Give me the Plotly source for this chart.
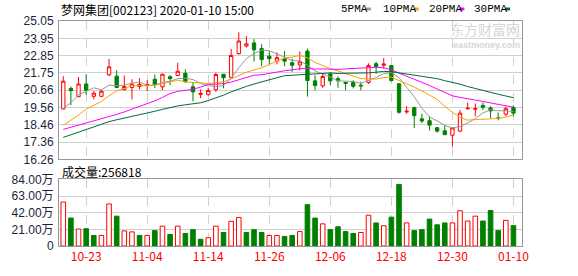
import plotly.graph_objects as go

# ---------------- data ----------------
dates = ["10-18", "10-21", "10-22", "10-23", "10-24", "10-25", "10-28", "10-29", "10-30", "10-31",
         "11-01", "11-04", "11-05", "11-06", "11-07", "11-08", "11-11", "11-12", "11-13", "11-14",
         "11-15", "11-18", "11-19", "11-20", "11-21", "11-22", "11-25", "11-26", "11-27", "11-28",
         "11-29", "12-02", "12-03", "12-04", "12-05", "12-06", "12-09", "12-10", "12-11", "12-12",
         "12-13", "12-16", "12-17", "12-18", "12-19", "12-20", "12-23", "12-24", "12-25", "12-26",
         "12-27", "12-30", "12-31", "01-02", "01-03", "01-06", "01-07", "01-08", "01-09", "01-10"]

opens = [19.47, 20.77, 20.25, 21.05, 20.27, 20.27, 21.63, 21.55, 20.69, 20.83,
         20.89, 20.95, 21.35, 20.87, 21.51, 21.59, 21.73, 20.87, 20.39, 20.37,
         20.69, 21.67, 21.47, 22.98, 23.46, 23.66, 23.30, 22.82, 22.50, 22.66,
         22.40, 22.26, 23.14, 21.25, 20.93, 21.69, 21.39, 21.15, 21.15, 20.97,
         21.15, 22.34, 22.24, 22.22, 21.07, 19.28, 19.55, 18.84, 18.72, 18.28,
         18.08, 17.80, 18.06, 19.47, 19.45, 19.69, 19.53, 18.90, 19.14, 19.55]
highs = [21.55, 20.89, 21.49, 21.67, 20.61, 20.69, 22.64, 21.92, 21.59, 21.35,
         21.41, 21.29, 21.65, 21.71, 21.61, 22.40, 21.99, 21.15, 20.71, 20.81,
         21.77, 21.67, 23.28, 24.33, 24.09, 23.90, 23.58, 23.14, 23.06, 23.14,
         22.66, 23.12, 23.30, 21.61, 21.71, 21.81, 21.53, 21.15, 21.29, 21.19,
         22.36, 22.46, 22.70, 22.26, 21.07, 19.65, 19.61, 19.16, 19.00, 18.32,
         18.44, 18.28, 19.40, 19.87, 19.81, 19.87, 19.65, 19.24, 19.61, 19.69]
lows = [19.44, 19.71, 20.21, 20.37, 20.07, 20.21, 21.55, 20.79, 20.65, 20.07,
        20.71, 20.59, 20.79, 20.67, 20.97, 21.57, 21.15, 19.95, 20.15, 20.33,
        20.55, 20.77, 21.41, 22.92, 23.36, 22.48, 22.18, 22.30, 22.30, 22.18,
        21.82, 21.90, 20.25, 20.65, 20.81, 20.95, 20.81, 20.65, 20.77, 20.65,
        21.05, 21.69, 22.02, 21.21, 19.16, 19.16, 18.26, 18.56, 18.10, 17.96,
        17.80, 17.08, 18.00, 19.47, 19.00, 19.40, 18.88, 18.74, 19.02, 19.00]
closes = [21.23, 20.63, 21.05, 20.65, 20.47, 20.59, 22.14, 20.83, 20.89, 21.03,
          21.03, 21.01, 21.01, 21.67, 21.39, 21.86, 21.19, 20.55, 20.45, 20.63,
          21.65, 21.45, 22.86, 23.78, 23.60, 23.22, 22.60, 22.66, 22.72, 22.50,
          22.24, 22.46, 21.27, 20.95, 21.53, 21.25, 21.25, 21.09, 20.91, 20.93,
          22.22, 22.16, 22.32, 21.27, 19.26, 19.32, 19.04, 18.70, 18.44, 18.06,
          17.84, 18.26, 19.20, 19.51, 19.49, 19.57, 19.34, 18.86, 19.48, 19.20]

ma5 = [19.52, 19.86, 20.36, 20.61, 20.81, 20.68, 20.98, 20.94, 20.98, 21.10,
       21.18, 20.96, 20.99, 21.15, 21.22, 21.39, 21.42, 21.33, 21.09, 20.94,
       20.89, 20.95, 21.41, 22.07, 22.67, 22.98, 23.21, 23.17, 22.96, 22.74,
       22.54, 22.52, 22.24, 21.88, 21.69, 21.49, 21.25, 21.21, 21.21, 21.09,
       21.28, 21.46, 21.71, 21.78, 21.45, 20.87, 20.24, 19.52, 18.95, 18.71,
       18.42, 18.26, 18.36, 18.57, 18.86, 19.21, 19.42, 19.35, 19.35, 19.29]
ma10 = [18.43, 18.73, 19.08, 19.45, 19.71, 19.95, 20.30, 20.61, 20.77, 20.95,
        20.93, 20.97, 20.97, 21.07, 21.16, 21.29, 21.19, 21.16, 21.12, 21.08,
        21.14, 21.19, 21.37, 21.58, 21.80, 21.94, 22.08, 22.29, 22.52, 22.70,
        22.76, 22.86, 22.71, 22.42, 22.22, 22.02, 21.88, 21.73, 21.55, 21.39,
        21.39, 21.36, 21.46, 21.49, 21.27, 21.07, 20.85, 20.61, 20.37, 20.08,
        19.64, 19.25, 18.94, 18.76, 18.79, 18.81, 18.84, 18.86, 18.96, 19.08]
ma20 = [18.17, 18.30, 18.44, 18.58, 18.70, 18.83, 18.95, 19.12, 19.28, 19.45,
        19.60, 19.78, 19.98, 20.20, 20.45, 20.58, 20.64, 20.72, 20.85, 21.02,
        21.04, 21.08, 21.17, 21.32, 21.48, 21.61, 21.64, 21.73, 21.82, 21.89,
        21.95, 22.02, 22.04, 22.00, 22.01, 21.98, 21.98, 22.01, 22.03, 22.05,
        22.07, 22.11, 22.08, 21.96, 21.74, 21.55, 21.37, 21.17, 20.96, 20.73,
        20.51, 20.30, 20.20, 20.13, 20.03, 19.94, 19.85, 19.74, 19.66, 19.58]
ma30 = [17.66, 17.83, 18.00, 18.17, 18.33, 18.50, 18.66, 18.78, 18.88, 18.99,
        19.10, 19.20, 19.32, 19.44, 19.56, 19.66, 19.73, 19.80, 19.86, 20.00,
        20.16, 20.34, 20.55, 20.75, 20.90, 21.05, 21.20, 21.33, 21.45, 21.58,
        21.61, 21.67, 21.68, 21.69, 21.73, 21.75, 21.72, 21.73, 21.73, 21.72,
        21.76, 21.80, 21.85, 21.83, 21.76, 21.68, 21.60, 21.54, 21.48, 21.39,
        21.26, 21.16, 21.04, 20.89, 20.76, 20.63, 20.53, 20.40, 20.29, 20.18]

# volume in 万 (10,000 shares)
volumes = [55.4, 35.2, 21.4, 21.8, 13.3, 13.3, 53.0, 37.6, 19.0, 17.8,
           13.3, 13.3, 19.4, 25.0, 14.5, 25.0, 15.8, 20.6, 8.5, 10.5,
           25.0, 17.0, 31.1, 36.0, 17.0, 20.6, 17.0, 13.3, 13.3, 12.1,
           13.3, 18.2, 52.1, 35.2, 27.9, 20.6, 24.2, 18.2, 15.8, 17.0,
           38.8, 29.1, 25.5, 36.4, 77.6, 29.1, 19.4, 20.6, 33.9, 26.7,
           29.1, 29.1, 44.4, 31.5, 37.6, 31.5, 44.8, 19.4, 32.3, 25.6818]
# 1 = rising (red hollow), 0 = falling (green filled)
volume_up = [1, 0, 1, 0, 0, 1, 1, 0, 1, 1,
             0, 1, 0, 1, 0, 1, 0, 0, 0, 1,
             1, 0, 1, 1, 0, 0, 0, 1, 1, 0,
             0, 1, 0, 0, 1, 0, 0, 0, 0, 1,
             1, 0, 1, 0, 0, 1, 0, 0, 0, 0,
             0, 1, 1, 1, 1, 0, 0, 0, 1, 0]

x_tick_labels = ["10-23", "11-04", "11-14", "11-26", "12-06", "12-18", "12-30", "01-10"]
price_ticks = [16.26, 17.35875, 18.4575, 19.55625, 20.655, 21.75375, 22.8525, 23.95125, 25.05]
price_tick_text = ["16.26", "17.36", "18.46", "19.56", "20.66", "21.75", "22.85", "23.95", "25.05"]
vol_ticks = [0, 21, 42, 63, 84]
vol_tick_text = ["0", "21.00万", "42.00万", "63.00万", "84.00万"]

title_text = "梦网集团[002123] 2020-01-10 15:00"
vol_label = "成交量:256818"
ma_names = ["5PMA", "10PMA", "20PMA", "30PMA"]

# ---------------- style ----------------
RED = "#ff0000"
GREEN = "#008000"
MA_COLORS = ["#999999", "#f5a300", "#ff00ff", "#006b36"]
GRID = "#d0d0d0"
BORDER = "#999999"
LABEL = "#1a1f3a"
CJK = "Noto Sans CJK SC"

idx = list(range(len(dates)))
tick_pos = [dates.index(t) for t in x_tick_labels]
x_range = [-0.56, 60.12]

fig = go.Figure()

fig.add_trace(go.Candlestick(
    x=idx, open=opens, high=highs, low=lows, close=closes,
    increasing=dict(line=dict(color=RED, width=1), fillcolor="#ffffff"),
    decreasing=dict(line=dict(color=GREEN, width=1), fillcolor=GREEN),
    whiskerwidth=0, xaxis="x", yaxis="y", hoverinfo="skip", showlegend=False))

for name, vals, col in zip(ma_names, [ma5, ma10, ma20, ma30], MA_COLORS):
    fig.add_trace(go.Scatter(x=idx, y=vals, mode="lines", name=name,
                             line=dict(color=col, width=1), xaxis="x", yaxis="y",
                             showlegend=False, hoverinfo="skip"))

fig.add_trace(go.Bar(
    x=idx, y=volumes, width=0.6,
    marker=dict(color=["#ffffff" if u else GREEN for u in volume_up],
                line=dict(color=[RED if u else GREEN for u in volume_up], width=1)),
    xaxis="x2", yaxis="y2", showlegend=False, hoverinfo="skip"))

axis_common = dict(showline=True, mirror=True, linecolor=BORDER, linewidth=1,
                   zeroline=False, ticks="", fixedrange=True)

fig.update_layout(
    width=578, height=276,
    margin=dict(l=56, r=56, t=21, b=21),
    paper_bgcolor="#ffffff", plot_bgcolor="#ffffff",
    boxgap=0.38,
    xaxis=dict(domain=[0, 1], anchor="y", range=x_range, tickvals=tick_pos,
               showticklabels=False, showgrid=True, gridcolor=GRID, griddash="dash",
               gridwidth=1, rangeslider=dict(visible=False), **axis_common),
    yaxis=dict(domain=[0.3846, 1], anchor="x", range=[16.26, 25.05],
               tickvals=price_ticks, ticktext=price_tick_text,
               showgrid=True, gridcolor=GRID, gridwidth=1,
               tickfont=dict(family="Liberation Sans", size=12, color=LABEL),
               ticklabelstandoff=2, **axis_common),
    xaxis2=dict(domain=[0, 1], anchor="y2", range=x_range, tickvals=tick_pos,
                ticktext=x_tick_labels, showgrid=True, gridcolor=GRID, griddash="dash",
                gridwidth=1, tickfont=dict(family=CJK, size=12, color=RED),
                ticklabelstandoff=0, **axis_common),
    yaxis2=dict(domain=[0, 0.2962], anchor="x2", range=[0, 84],
                tickvals=vol_ticks, ticktext=vol_tick_text,
                showgrid=True, gridcolor=GRID, gridwidth=1,
                tickfont=dict(family="Liberation Sans, " + CJK, size=12, color=LABEL),
                ticklabelstandoff=2, **axis_common),
)

annotations = [
    dict(text=title_text, xref="paper", yref="paper", x=0.0, y=1.0513,
         xanchor="left", yanchor="middle", showarrow=False,
         font=dict(family=CJK, size=12, color="#000000")),
    dict(text=vol_label, xref="paper", yref="paper", x=0.002, y=0.333,
         xanchor="left", yanchor="middle", showarrow=False,
         font=dict(family=CJK, size=12, color="#000000")),
    dict(text="东方财富网", xref="paper", yref="paper", x=1.0, y=1 - (29.5 - 21) / 234,
         xanchor="right", yanchor="middle", showarrow=False,
         font=dict(family=CJK, size=14, color="#d6d6d6")),
    dict(text="<b>eastmoney.com</b>", xref="paper", yref="paper", x=1.0, y=1 - (45.5 - 21) / 234,
         xanchor="right", yanchor="middle", showarrow=False,
         font=dict(family="Liberation Sans", size=9, color="#d6d6d6")),
]

# legend (text + small coloured block)
legend_x_px = [338, 380, 426, 472]
legend_sq_px = [365, 413, 459, 505]
shapes = []
for name, xp, sq, col in zip(ma_names, legend_x_px, legend_sq_px, MA_COLORS):
    annotations.append(dict(text=name, xref="paper", yref="paper",
                            x=(xp - 56) / 466, y=1 + (21 - 8.5) / 234,
                            xanchor="left", yanchor="middle", showarrow=False,
                            font=dict(family="Liberation Mono", size=11, color="#000000")))
    shapes.append(dict(type="rect", xref="paper", yref="paper",
                       x0=(sq - 56) / 466, x1=(sq + 5 - 56) / 466,
                       y0=1 + (21 - 10) / 234, y1=1 + (21 - 7) / 234,
                       fillcolor=col, line=dict(width=0)))

fig.update_layout(annotations=annotations, shapes=shapes)

fig.write_html("out.html")
